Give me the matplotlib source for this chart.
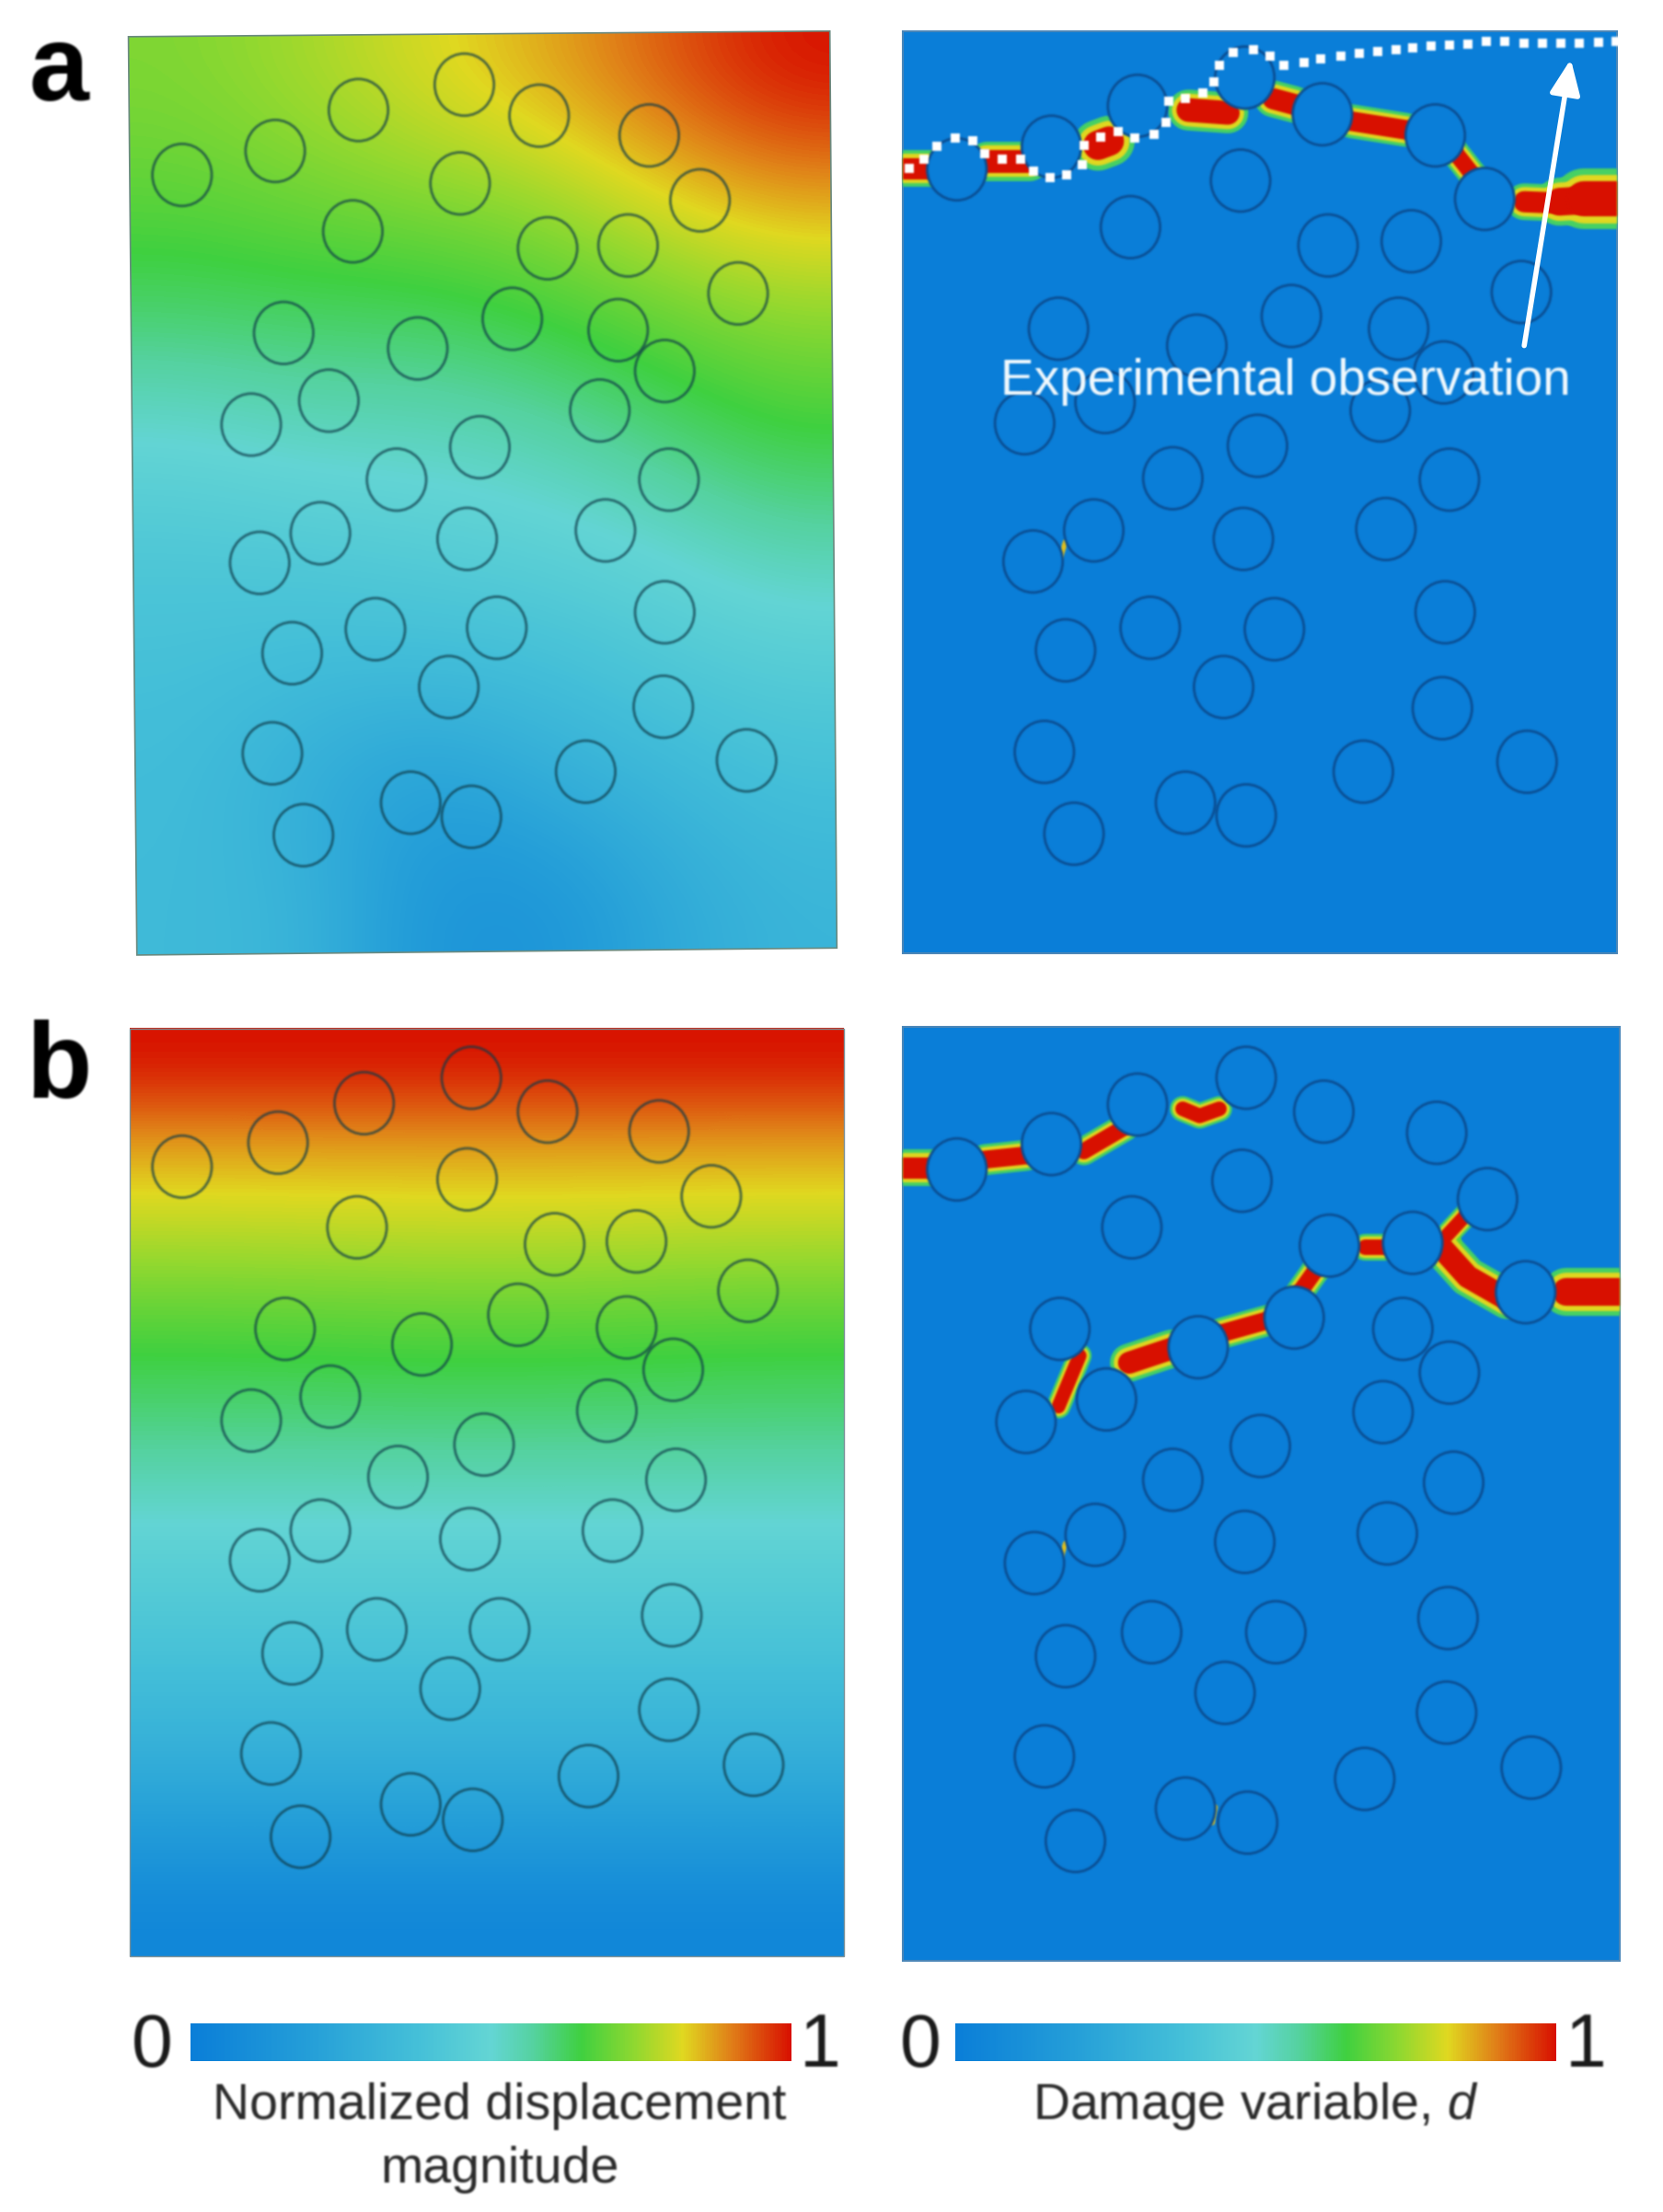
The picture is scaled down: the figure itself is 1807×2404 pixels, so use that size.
import numpy as np
import matplotlib
matplotlib.use('Agg')
import matplotlib.pyplot as plt
from matplotlib.cm import ScalarMappable
from matplotlib.collections import PatchCollection
from matplotlib.colors import LinearSegmentedColormap, Normalize
from matplotlib.patches import Ellipse, Polygon, Rectangle

plt.rcParams['font.family'] = ['Liberation Sans', 'DejaVu Sans']
plt.rcParams['mathtext.fontset'] = 'custom'
plt.rcParams['mathtext.it'] = 'Liberation Sans:italic'

scale_stops = [0.0, 0.2, 0.38, 0.5, 0.57, 0.65, 0.74, 0.82, 0.9, 1.0]
scale_colors = ['#0a7ed8', '#259fd8', '#45c0d8', '#63d5d4', '#55d2a0', '#3fd040',
                '#90d830', '#e0d820', '#e08018', '#d81000']

a_left_rows = [22, 677]
a_left_cols = [91, 593]
a_left_values = [
    [0.72, 0.76, 0.81, 0.86, 0.93, 1.00],
    [0.68, 0.70, 0.72, 0.74, 0.81, 0.86],
    [0.61, 0.62, 0.62, 0.65, 0.69, 0.73],
    [0.50, 0.53, 0.53, 0.55, 0.60, 0.65],
    [0.42, 0.43, 0.45, 0.47, 0.50, 0.55],
    [0.38, 0.36, 0.36, 0.37, 0.42, 0.45],
    [0.36, 0.28, 0.20, 0.28, 0.33, 0.38],
    [0.35, 0.32, 0.15, 0.13, 0.25, 0.32],
]
b_left_rows = [729, 1387]
b_left_cols = [92, 598]
b_left_values = [
    [1.00, 1.00, 1.00],
    [0.87, 0.87, 0.87],
    [0.79, 0.80, 0.79],
    [0.70, 0.71, 0.70],
    [0.63, 0.64, 0.63],
    [0.57, 0.57, 0.57],
    [0.49, 0.49, 0.49],
    [0.43, 0.43, 0.43],
    [0.36, 0.36, 0.36],
    [0.28, 0.28, 0.28],
    [0.17, 0.17, 0.17],
    [0.05, 0.05, 0.05],
]

a_left_x = [129, 195, 254, 329, 382, 460, 496, 326, 250, 388, 445, 523, 201, 296, 363, 438, 471, 233, 178, 425,
            340, 281, 474, 227, 184, 331, 429, 266, 207, 352, 471, 318, 470, 193, 415, 529, 291, 334, 215]
a_left_y = [124, 107, 78, 60, 82, 96, 142, 130, 164, 176, 174, 208, 236, 247, 226, 234, 263, 284, 301, 291,
            317, 340, 340, 378, 399, 382, 376, 446, 463, 445, 434, 487, 501, 534, 547, 539, 569, 579, 592]
a_right_x = [678, 745, 806, 882, 937, 1017, 1052, 879, 801, 941, 1000, 1078, 750, 848, 915, 991, 1023, 783, 726, 978,
             891, 831, 1027, 775, 732, 881, 982, 815, 755, 903, 1024, 867, 1022, 740, 966, 1082, 840, 883, 761]
a_right_y = [120, 104, 75, 55, 81, 96, 141, 128, 161, 174, 171, 207, 233, 245, 224, 233, 264, 285, 300, 291,
             316, 339, 340, 376, 398, 382, 375, 445, 461, 446, 434, 487, 502, 533, 547, 540, 569, 578, 591]
b_left_x = [129, 197, 258, 334, 388, 467, 504, 331, 253, 393, 451, 530, 202, 299, 367, 444, 477, 234, 178, 430,
            343, 282, 479, 227, 184, 333, 434, 267, 207, 354, 476, 319, 474, 192, 417, 534, 291, 335, 213]
b_left_y = [827, 810, 782, 764, 788, 802, 848, 836, 870, 882, 880, 915, 942, 953, 932, 941, 971, 990, 1007, 1000,
            1024, 1047, 1049, 1085, 1106, 1091, 1085, 1155, 1172, 1155, 1145, 1197, 1212, 1243, 1259, 1251, 1279, 1290, 1302]
b_right_x = [678, 745, 806, 883, 938, 1018, 1054, 880, 802, 942, 1001, 1081, 751, 849, 917, 994, 1027, 784, 727, 980,
             893, 831, 1030, 776, 733, 882, 983, 816, 755, 904, 1026, 868, 1025, 740, 967, 1085, 840, 884, 762]
b_right_y = [829, 811, 783, 764, 788, 803, 850, 837, 870, 883, 881, 916, 942, 955, 934, 942, 973, 992, 1008, 1001,
             1025, 1049, 1051, 1088, 1108, 1093, 1087, 1157, 1174, 1157, 1147, 1200, 1214, 1245, 1261, 1253, 1282, 1292, 1305]

# crack paths: x points, y points, band width
a_cracks = [
    ([635, 660], [119.5, 119.5], 26),
    ([699, 729], [114, 114], 28),
    ([778, 786], [103, 100], 36),
    ([842, 870], [78, 80], 29),
    ([902, 917], [70, 74], 26),
    ([958, 996], [86, 92], 24),
    ([1031, 1046], [108, 127], 20),
    ([1080, 1105], [143, 144], 26),
    ([1105, 1122], [143, 142], 34),
    ([1122, 1155], [141, 141], 43),
]
b_cracks = [
    ([635, 660], [828, 828], 26),
    ([698, 727], [822, 819], 22),
    ([768, 797], [816, 799], 20),
    ([838, 850, 864], [786, 791, 786], 18),
    ([967, 981], [883.6, 883.6], 19),
    ([936, 921], [895, 916], 20),
    ([866, 898], [945, 936], 22),
    ([800, 830], [966, 956], 27),
    ([765, 750], [961, 997], 17),
    ([1038, 1025], [862, 876], 17),
    ([1022, 1040, 1068], [885, 905, 921], 28),
    ([1110, 1155], [916, 916], 34),
]
b_thin_x = [1031, 1034, 1042]
b_thin_y = [874, 889, 898]
a_spots = [([755, 751], [384, 396])]
b_spots = [([755, 751], [1094, 1106]), ([861, 859], [1281, 1292])]

observed_x = [644, 655, 664, 677, 689, 698, 710, 723, 732, 744, 756, 767, 768, 780, 792, 804, 818, 826, 828, 840, 852,
              860, 864, 874, 888, 900, 910, 924, 936, 950, 963, 976, 989, 1001, 1014, 1027, 1040, 1053, 1066, 1080,
              1093, 1106, 1119, 1133, 1145]
observed_y = [119.5, 113, 104, 98, 100, 109, 113, 113, 121, 126, 124, 117, 103, 97, 93, 98, 95, 87, 72, 70, 66,
              58, 46, 37, 35, 40, 46, 44.5, 42, 39.5, 38, 36.5, 35, 33.7, 32.6, 32, 31, 29.3, 29.3, 30.4,
              30.8, 30.8, 30.4, 30, 29.3]


def soften(image, dpi):
    # the reference is a blurry scan, so blur the crisp artists a little
    pad = 6
    out = np.pad(image, ((pad, pad), (pad, pad), (0, 0)))
    out[..., :3] *= out[..., 3:]
    for axis in (0, 1):
        total = np.zeros_like(out)
        for shift, weight in zip(range(-2, 3), [1 / 16, 4 / 16, 6 / 16, 4 / 16, 1 / 16]):
            total += weight * np.roll(out, shift, axis=axis)
        out = total
    alpha = np.clip(out[..., 3:], 1e-4, 1)
    out[..., :3] = np.clip(out[..., :3] / alpha, 0, 1)
    return out, -pad, -pad


def draw_field(ax, values, cols, rows, corners=None):
    im = ax.imshow(values, extent=(cols[0], cols[1], rows[1], rows[0]), cmap=cmap, norm=norm, aspect='auto',
                   interpolation='bicubic', interpolation_stage='data', zorder=1)
    if corners:
        outline = Polygon(corners, closed=True, fc='none', ec='#6a8a80', lw=1.2, zorder=3, transform=ax.transData)
        ax.add_patch(outline)
        im.set_clip_path(outline)


def draw_circles(ax, xs, ys, face, edge, alpha=1.0):
    patches = [Ellipse((x, y), 42, 44) for x, y in zip(xs, ys)]
    circles = PatchCollection(patches, facecolor=face, edgecolor=edge, linewidth=2.0, alpha=alpha, zorder=5)
    circles.set_agg_filter(soften)
    ax.add_collection(circles)


def draw_cracks(ax, cracks, panel, thin=None):
    # layer by layer, so touching bands merge into one
    for share, level in zip([1.0, 0.8, 0.58], [0.62, 0.82, 1.0]):
        for xs, ys, width in cracks:
            # 1 view unit is 1.104 points at this figure size
            line, = ax.plot(xs, ys, color=cmap(level), lw=width * share * 1.104, solid_capstyle='round', zorder=3)
            line.set_clip_path(panel)
            line.set_agg_filter(soften)
        if thin and level == 0.62:
            line, = ax.plot(thin[0], thin[1], color=cmap(0.68), lw=7, solid_capstyle='butt', zorder=3)
            line.set_agg_filter(soften)


def draw_spots(ax, spots):
    for xs, ys in spots:
        line, = ax.plot(xs, ys, color=cmap(0.84), lw=4, solid_capstyle='round', zorder=3)
        line.set_agg_filter(soften)


cmap = LinearSegmentedColormap.from_list('damage', list(zip(scale_stops, scale_colors)))
norm = Normalize(0, 1)

fig = plt.figure(figsize=(18.08, 24.04), dpi=100)
ax = fig.add_axes([0, 0, 1, 1])

draw_field(ax, a_left_values, a_left_cols, a_left_rows, [(91, 26), (588, 22), (593, 672), (97, 677)])
draw_field(ax, b_left_values, b_left_cols, b_left_rows)
ax.add_patch(Rectangle((92, 729), 506, 658, fc='none', ec='#7a9098', lw=1.0, zorder=3))

panel_blue = scale_colors[0]
panel_a = Rectangle((640, 22), 506, 654, fc=panel_blue, ec='#4a86b8', lw=1.5, zorder=1)
panel_b = Rectangle((640, 728), 508, 662, fc=panel_blue, ec='#4a86b8', lw=1.5, zorder=1)
ax.add_patch(panel_a)
ax.add_patch(panel_b)

draw_cracks(ax, a_cracks, panel_a)
draw_cracks(ax, b_cracks, panel_b, (b_thin_x, b_thin_y))
draw_spots(ax, a_spots)
draw_spots(ax, b_spots)

draw_circles(ax, a_left_x, a_left_y, 'none', '#0e3a48', 0.7)
draw_circles(ax, b_left_x, b_left_y, 'none', '#0e3a48', 0.7)
draw_circles(ax, a_right_x, a_right_y, panel_blue, '#0a4f94')
draw_circles(ax, b_right_x, b_right_y, panel_blue, '#0a4f94')

dots, = ax.plot(observed_x, observed_y, 's', color='white', ms=6.5, mew=0, zorder=6)
dots.set_agg_filter(soften)
arrow = ax.annotate('', xy=(1113, 42), xytext=(1080, 245), zorder=7,
                    arrowprops=dict(arrowstyle='-|>,head_length=2.3,head_width=1.0', mutation_scale=10, color='white',
                                    lw=4, shrinkA=0, shrinkB=0))
arrow.arrow_patch.set_agg_filter(soften)

texts = [
    ax.text(911, 271, 'Experimental observation', color='#f2fafe', fontsize=39.5, ha='center', va='center', zorder=7),
    ax.text(42, 51, 'a', color='black', fontsize=84, fontweight='bold', ha='center', va='center'),
    ax.text(42, 758, 'b', color='black', fontsize=84, fontweight='bold', ha='center', va='center'),
    ax.text(108, 1451, '0', color='#1a1a1a', fontsize=58, ha='center', va='center'),
    ax.text(581, 1451, '1', color='#1a1a1a', fontsize=58, ha='center', va='center'),
    ax.text(652, 1451, '0', color='#1a1a1a', fontsize=58, ha='center', va='center'),
    ax.text(1124, 1451, '1', color='#1a1a1a', fontsize=58, ha='center', va='center'),
    ax.text(354, 1493, 'Normalized displacement', color='#2a2a2a', fontsize=40, ha='center', va='center'),
    ax.text(354, 1538, 'magnitude', color='#2a2a2a', fontsize=40, ha='center', va='center'),
    ax.text(890, 1493, r'Damage variable, $\mathit{d}$', color='#2a2a2a', fontsize=40, ha='center', va='center'),
]
for text in texts:
    text.set_agg_filter(soften)

ax.set_xlim(0, 1179)
ax.set_ylim(1568, 0)
ax.axis('off')

# colour bars go through the library's own colorbar
for left, right in [(135, 561), (677, 1103)]:
    cax = fig.add_axes([left / 1179, 1 - 1461 / 1568, (right - left) / 1179, 27 / 1568])
    bar = fig.colorbar(ScalarMappable(norm=norm, cmap=cmap), cax=cax, orientation='horizontal')
    bar.set_ticks([])
    bar.outline.set_visible(False)

fig.savefig('out.png', dpi=100)
